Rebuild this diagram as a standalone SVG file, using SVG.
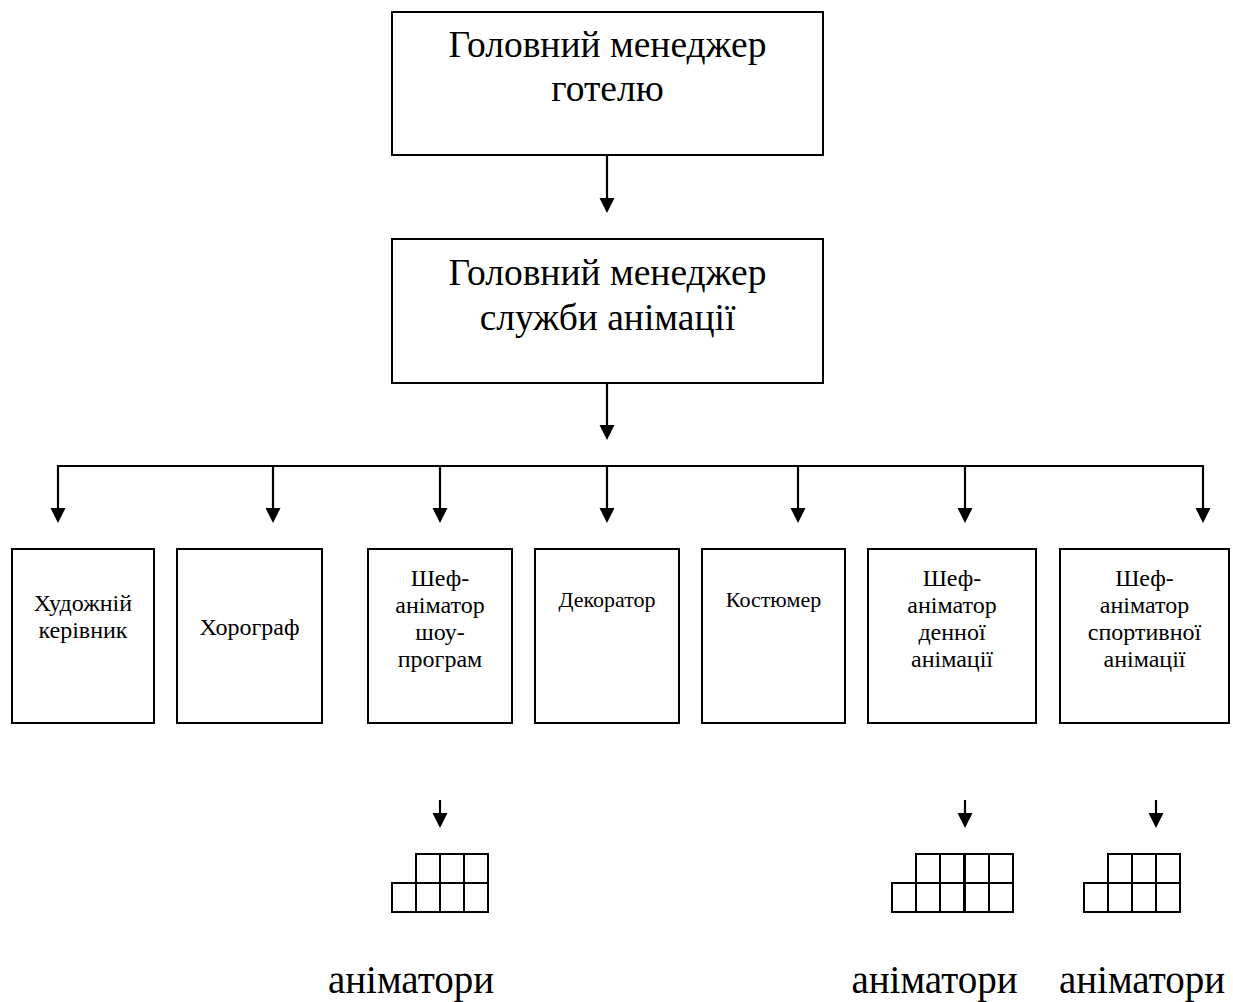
<svg xmlns="http://www.w3.org/2000/svg" xmlns:xlink="http://www.w3.org/1999/xlink" width="1233" height="1002" viewBox="0 0 1233 1002">
<style>
  .box { fill: #fff; stroke: #000; stroke-width: 2; }
  .cell { fill: none; stroke: #000; stroke-width: 2; }
  .ln { fill: none; stroke: #000; stroke-width: 2.2; }
  .t { font-family: "Liberation Serif", "Times New Roman", serif; fill: #000; text-anchor: middle; }
  .big { font-size: 37.5px; }
  .lab { font-size: 39px; }
  .sm { font-size: 24px; }
  .xs { font-size: 22px; }
</style>
<defs>
  <path id="ah" d="M-7.5,-15 L7.5,-15 L0,0 Z" fill="#000"/>
  <g id="cell"><rect class="cell" x="0" y="0" width="24" height="29"/></g>
</defs>
<rect width="1233" height="1002" fill="#fff"/>

<g id="connectors">
  <line class="ln" x1="607" y1="155" x2="607" y2="199"/>
  <use xlink:href="#ah" x="607" y="213"/>
  <line class="ln" x1="607" y1="383" x2="607" y2="426"/>
  <use xlink:href="#ah" x="607" y="440"/>
  <line class="ln" x1="58" y1="466" x2="1203" y2="466"/>
  <line class="ln" x1="58" y1="465" x2="58" y2="510"/>
  <use xlink:href="#ah" x="58" y="523"/>
  <line class="ln" x1="273" y1="466" x2="273" y2="510"/>
  <use xlink:href="#ah" x="273" y="523"/>
  <line class="ln" x1="440" y1="466" x2="440" y2="510"/>
  <use xlink:href="#ah" x="440" y="523"/>
  <line class="ln" x1="607" y1="466" x2="607" y2="510"/>
  <use xlink:href="#ah" x="607" y="523"/>
  <line class="ln" x1="798" y1="466" x2="798" y2="510"/>
  <use xlink:href="#ah" x="798" y="523"/>
  <line class="ln" x1="965" y1="466" x2="965" y2="510"/>
  <use xlink:href="#ah" x="965" y="523"/>
  <line class="ln" x1="1203" y1="465" x2="1203" y2="510"/>
  <use xlink:href="#ah" x="1203" y="523"/>
  <line class="ln" x1="440" y1="800" x2="440" y2="814"/>
  <use xlink:href="#ah" x="440" y="828"/>
  <line class="ln" x1="965" y1="800" x2="965" y2="814"/>
  <use xlink:href="#ah" x="965" y="828"/>
  <line class="ln" x1="1156" y1="800" x2="1156" y2="814"/>
  <use xlink:href="#ah" x="1156" y="828"/>
</g>

<g id="hotel-manager">
  <rect class="box" x="392" y="12" width="431" height="143"/>
  <text class="t big" x="607.5" y="57">Головний менеджер</text>
  <text class="t big" x="607.5" y="101">готелю</text>
</g>

<g id="animation-manager">
  <rect class="box" x="392" y="239" width="431" height="144"/>
  <text class="t big" x="607.5" y="285">Головний менеджер</text>
  <text class="t big" x="607.5" y="330">служби анімації</text>
</g>

<g id="art-director">
  <rect class="box" x="12" y="549" width="142" height="174"/>
  <text class="t sm" x="83" y="611">Художній</text>
  <text class="t sm" x="83" y="638">керівник</text>
</g>

<g id="choreographer">
  <rect class="box" x="177" y="549" width="145" height="174"/>
  <text class="t sm" x="249.5" y="635">Хорограф</text>
</g>

<g id="chef-show">
  <rect class="box" x="368" y="549" width="144" height="174"/>
  <text class="t sm" x="440" y="586">Шеф-</text>
  <text class="t sm" x="440" y="613">аніматор</text>
  <text class="t sm" x="440" y="640">шоу-</text>
  <text class="t sm" x="440" y="667">програм</text>
</g>

<g id="decorator">
  <rect class="box" x="535" y="549" width="144" height="174"/>
  <text class="t xs" x="607" y="607">Декоратор</text>
</g>

<g id="costumer">
  <rect class="box" x="702" y="549" width="143" height="174"/>
  <text class="t xs" x="773.5" y="607">Костюмер</text>
</g>

<g id="chef-day">
  <rect class="box" x="868" y="549" width="168" height="174"/>
  <text class="t sm" x="952" y="586">Шеф-</text>
  <text class="t sm" x="952" y="613">аніматор</text>
  <text class="t sm" x="952" y="640">денної</text>
  <text class="t sm" x="952" y="667">анімації</text>
</g>

<g id="chef-sport">
  <rect class="box" x="1060" y="549" width="169" height="174"/>
  <text class="t sm" x="1144.5" y="586">Шеф-</text>
  <text class="t sm" x="1144.5" y="613">аніматор</text>
  <text class="t sm" x="1144.5" y="640">спортивної</text>
  <text class="t sm" x="1144.5" y="667">анімації</text>
</g>

<g id="animators-show">
  <use xlink:href="#cell" x="416" y="854"/>
  <use xlink:href="#cell" x="440" y="854"/>
  <use xlink:href="#cell" x="464" y="854"/>
  <use xlink:href="#cell" x="392" y="883"/>
  <use xlink:href="#cell" x="416" y="883"/>
  <use xlink:href="#cell" x="440" y="883"/>
  <use xlink:href="#cell" x="464" y="883"/>
  <text class="t lab" x="411" y="993">аніматори</text>
</g>

<g id="animators-day">
  <use xlink:href="#cell" x="916" y="854"/>
  <use xlink:href="#cell" x="940" y="854"/>
  <use xlink:href="#cell" x="965" y="854"/>
  <use xlink:href="#cell" x="989" y="854"/>
  <use xlink:href="#cell" x="892" y="883"/>
  <use xlink:href="#cell" x="916" y="883"/>
  <use xlink:href="#cell" x="940" y="883"/>
  <use xlink:href="#cell" x="965" y="883"/>
  <use xlink:href="#cell" x="989" y="883"/>
  <text class="t lab" x="934.5" y="993">аніматори</text>
</g>

<g id="animators-sport">
  <use xlink:href="#cell" x="1108" y="854"/>
  <use xlink:href="#cell" x="1132" y="854"/>
  <use xlink:href="#cell" x="1156" y="854"/>
  <use xlink:href="#cell" x="1084" y="883"/>
  <use xlink:href="#cell" x="1108" y="883"/>
  <use xlink:href="#cell" x="1132" y="883"/>
  <use xlink:href="#cell" x="1156" y="883"/>
  <text class="t lab" x="1142" y="993">аніматори</text>
</g>
</svg>
